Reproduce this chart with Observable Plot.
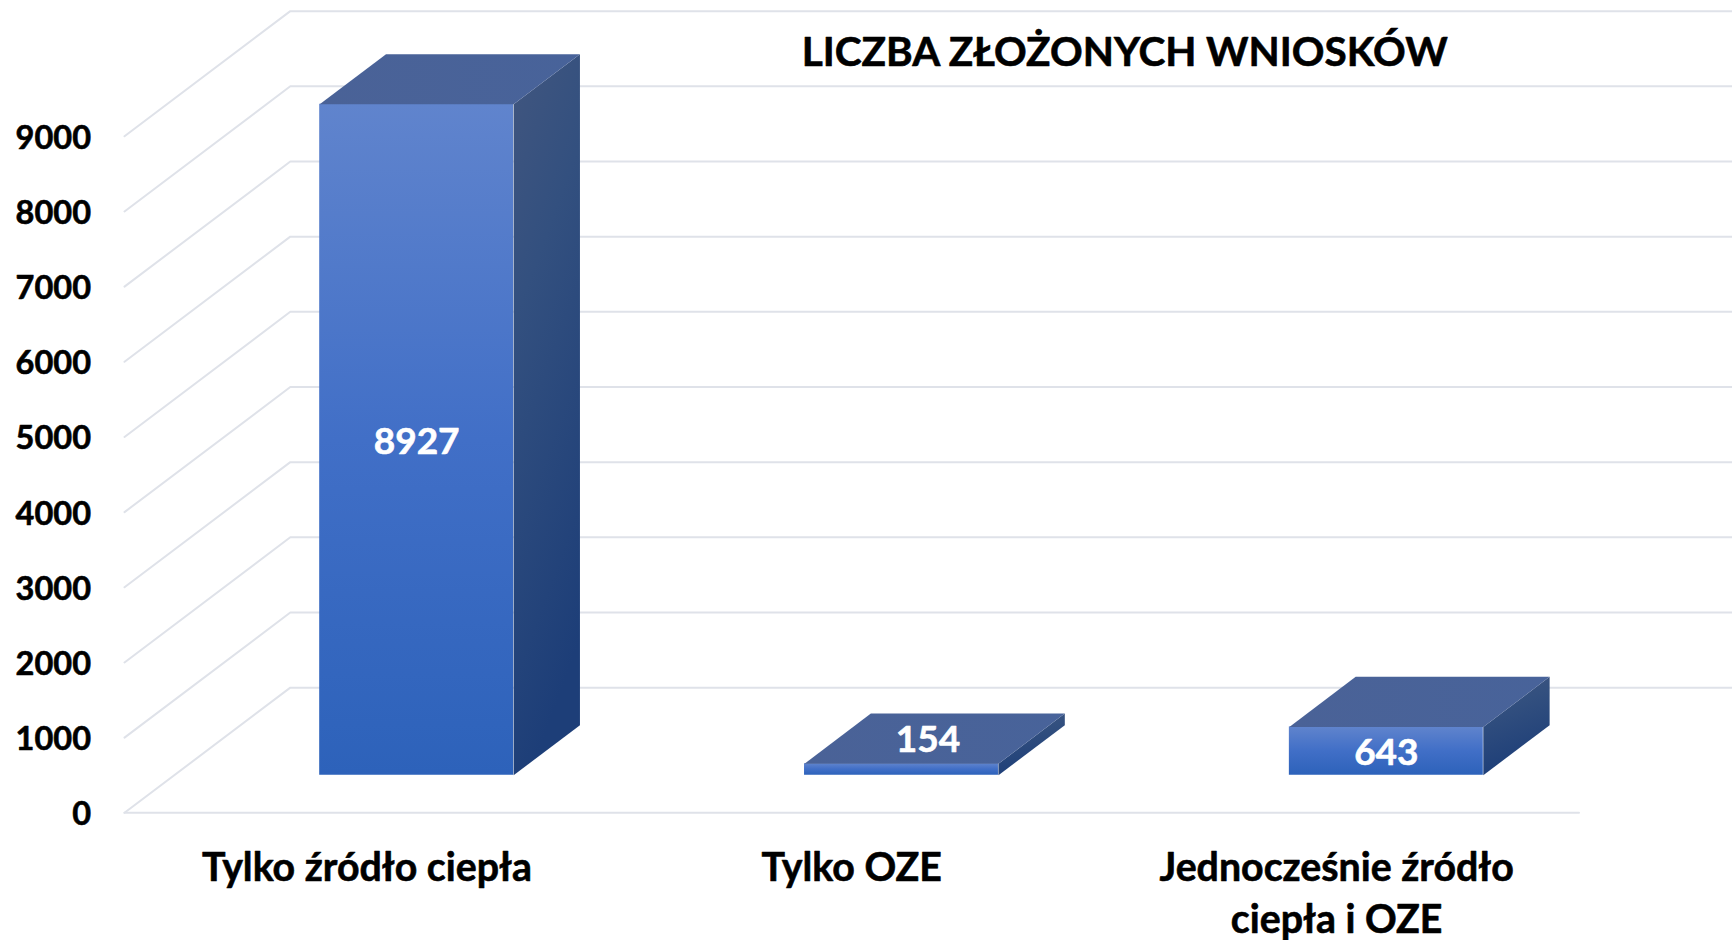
<!DOCTYPE html>
<html><head><meta charset="utf-8">
<style>html,body{margin:0;padding:0;background:#fff}svg{display:block}</style>
<script src="https://cdn.jsdelivr.net/npm/d3@7"></script>
<script src="https://cdn.jsdelivr.net/npm/@observablehq/plot@0.6"></script>
</head><body><div id="chart"></div>
<script>
const chartTitle = "LICZBA ZŁOŻONYCH WNIOSKÓW";
const categories = ["Tylko źródło ciepła", "Tylko OZE", "Jednocześnie źródło\nciepła i OZE"];
const values = [8927, 154, 643];
const yTicks = [0, 1000, 2000, 3000, 4000, 5000, 6000, 7000, 8000, 9000];
// oblique projection of the depth axis, in scale units
const depthX = 0.342, depthY = 1665;
const barHalf = 0.2, barZ0 = 0.3, barZ1 = 0.7;
const labelZ = [0.3, 0.46, 0.3];
const labelLift = [0, 147, 0];
const project = (i, v, z) => ({x: i + z * depthX, y: v + z * depthY});

const bars = values.map((v, k) => ({k, v, c: k + 0.5}));
const fronts = bars.map(b => {
  const a = project(b.c - barHalf, 0, barZ0), d = project(b.c + barHalf, b.v, barZ0);
  return {x1: a.x, x2: d.x, y1: a.y, y2: d.y};
});
const poly = (b, pts) => pts.map(([dx, v, z], n) => ({k: b.k, n, ...project(b.c + dx, v, z)}));
const rights = bars.flatMap(b => poly(b, [[barHalf,0,barZ0],[barHalf,b.v,barZ0],[barHalf,b.v,barZ1],[barHalf,0,barZ1]]));
const tops = bars.flatMap(b => poly(b, [[-barHalf,b.v,barZ0],[barHalf,b.v,barZ0],[barHalf,b.v,barZ1],[-barHalf,b.v,barZ1]]));
const grid = yTicks.flatMap(t => [[0,t,0],[0,t,1],[3,t,1]].map(([i,v,z]) => ({t, ...project(i,v,z)})));
const floorFront = [0,3].map(i => project(i,0,0));
const labels = bars.map(b => ({text: String(b.v), ...project(b.c, b.v/2 + labelLift[b.k], labelZ[b.k])}));

function grad(id, x2, y2, stops) {
  const ns = "http://www.w3.org/2000/svg";
  const g = document.createElementNS(ns, "linearGradient");
  g.setAttribute("id", id);
  g.setAttribute("x1", 0); g.setAttribute("y1", 0); g.setAttribute("x2", x2); g.setAttribute("y2", y2);
  stops.forEach(([o, c]) => {
    const s = document.createElementNS(ns, "stop");
    s.setAttribute("offset", o); s.setAttribute("stop-color", c); g.appendChild(s);
  });
  return g;
}
const defs = () => {
  const d = document.createElementNS("http://www.w3.org/2000/svg", "defs");
  d.appendChild(grad("gFront", 0, 1, [[0,"#6084cd"],[0.5,"#416fc7"],[1,"#2d62ba"]]));
  d.appendChild(grad("gRight", 0.25, 1, [[0,"#41567f"],[0.35,"#33507f"],[1,"#1d3e78"]]));
  d.appendChild(grad("gTop", 1, 0, [[0,"#4a6297"],[1,"#48639a"]]));
  return d;
};

const font = "Lato, Carlito, sans-serif";
const plot = Plot.plot({
  width: 1732, height: 940,
  marginLeft: 124, marginRight: 153.5, marginTop: 135.8, marginBottom: 127.7,
  x: {domain: [0, 3]},
  y: {domain: [0, 9000]},
  style: {fontFamily: font, fontWeight: 700, color: "#000", background: "#fff", overflow: "hidden"},
  marks: [
    defs,
    Plot.line(grid, {x: "x", y: "y", z: "t", stroke: "#dfe2e9", strokeWidth: 2}),
    Plot.line(floorFront, {x: "x", y: "y", stroke: "#dfe2e9", strokeWidth: 2}),
    Plot.rect(fronts, {x1: "x1", x2: "x2", y1: "y1", y2: "y2", fill: "url(#gFront)"}),
    Plot.line(rights, {x: "x", y: "y", z: "k", fill: "url(#gRight)", stroke: "none"}),
    Plot.line(tops, {x: "x", y: "y", z: "k", fill: "url(#gTop)", stroke: "none"}),
    Plot.axisY({ticks: yTicks, tickSize: 0, tickPadding: 33.5, dy: 2, tickFormat: d => String(d), fontSize: 32.5, label: null, fontFamily: font, fontWeight: 700, textStroke: "#000", textStrokeWidth: 0.6}),
    Plot.axisX({ticks: [0.5, 1.5, 2.5], tickSize: 0, tickPadding: 30.5, tickFormat: d => categories[Math.floor(d)], fontSize: 39.3, label: null, lineHeight: 1.34, fontFamily: font, fontWeight: 700, textStroke: "#000", textStrokeWidth: 0.6}),
    Plot.text(labels, {x: "x", y: "y", dy: 2, text: "text", fill: "#fff", stroke: "#fff", strokeWidth: 0.6, fontSize: 37, fontWeight: 700, fontFamily: font}),
    Plot.text([chartTitle], {x: 2.063, y: 10128, dy: 2, text: d => d, fill: "#000", stroke: "#000", strokeWidth: 0.6, fontSize: 40.5, fontWeight: 700, fontFamily: font})
  ]
});
document.getElementById("chart").appendChild(plot);
</script></body></html>
